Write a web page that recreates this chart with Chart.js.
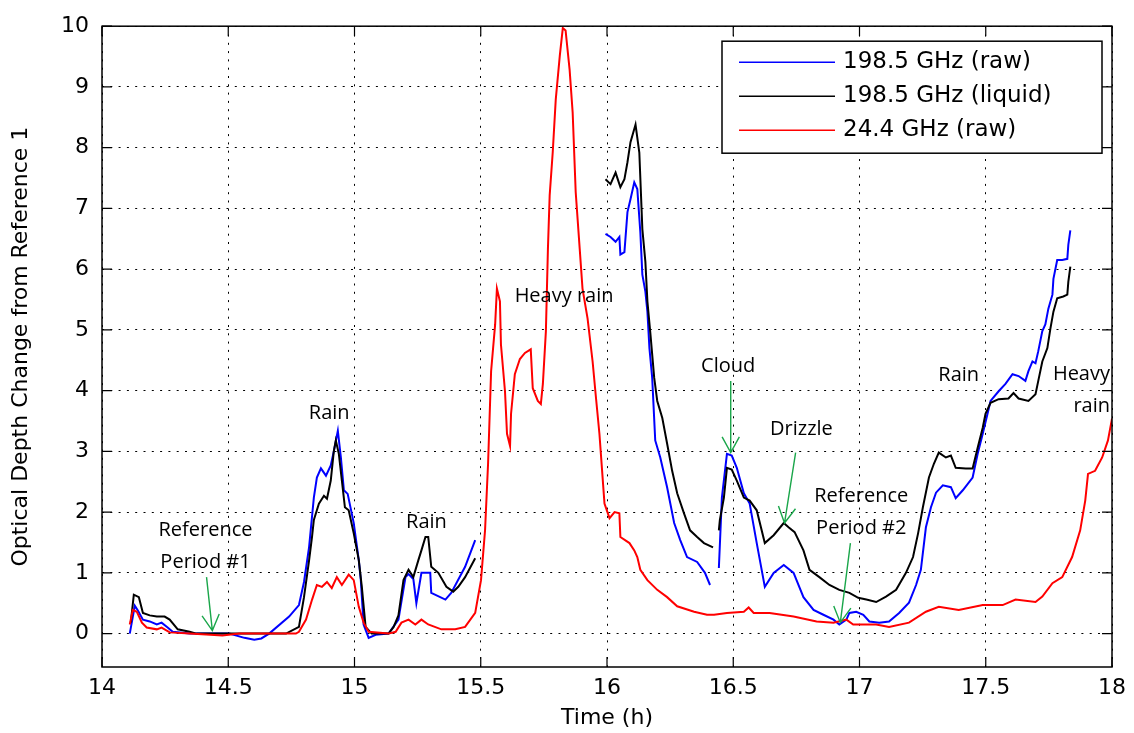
<!DOCTYPE html>
<html lang="en">
<head>
  <meta charset="UTF-8">
  <title>Optical Depth Change</title>
  <script src="https://cdn.jsdelivr.net/npm/chart.js"></script>
  <style>
    body { margin: 0; background: #fff; }
    #wrap { width: 1134px; height: 733px; }
  </style>
</head>
<body>
  <div id="wrap"><canvas id="myChart"></canvas></div>
  <script>
    // values (time in hours, null = gap in the record)
    const blueTime = [
      14.110, 14.130, 14.142, 14.162, 14.189, 14.217, 14.236, 14.260, 14.280, 14.347,
      14.504, 14.564, 14.603, 14.631, 14.662, 14.741, 14.780, 14.800, 14.820, 14.839,
      14.851, 14.867, 14.887, 14.906, 14.918, 14.934, 14.946, 14.958, 14.973, 14.997,
      15.017, 15.025, 15.036, 15.056, 15.084, 15.135, 15.174, 15.202, 15.214, 15.233,
      15.245, 15.265, 15.300, 15.304, 15.360, 15.383, 15.438, 15.478, 15.700,
      15.994, 16.014, 16.034, 16.049, 16.053, 16.069, 16.081, 16.093, 16.108, 16.120,
      16.132, 16.140, 16.152, 16.160, 16.168, 16.179, 16.191, 16.211, 16.238, 16.266,
      16.290, 16.317, 16.357, 16.388, 16.408, 16.425,
      16.443, 16.455, 16.475, 16.494, 16.514, 16.542, 16.565, 16.593, 16.625, 16.660,
      16.700, 16.739, 16.778, 16.818, 16.857, 16.897, 16.920, 16.948, 16.960, 16.987,
      17.015, 17.039, 17.078, 17.117, 17.157, 17.196, 17.224, 17.243, 17.263, 17.283,
      17.303, 17.330, 17.362, 17.381, 17.409, 17.448, 17.468, 17.488, 17.507, 17.519,
      17.551, 17.578, 17.606, 17.630, 17.657, 17.669, 17.685, 17.697, 17.708, 17.724,
      17.736, 17.748, 17.764, 17.768, 17.783, 17.803, 17.823, 17.827, 17.835
    ]
    const blueRaw = [
      0, 0.46, 0.38, 0.23, 0.2, 0.15, 0.18, 0.1, 0.03, 0,
      0, -0.07, -0.1, -0.08, 0, 0.28, 0.47, 0.85, 1.42, 2.24,
      2.57, 2.72, 2.6, 2.77, 3.0, 3.34, 2.9, 2.36, 2.3, 1.82,
      1.21, 0.88, 0.15, -0.07, -0.02, 0, 0.23, 0.93, 0.98, 0.9,
      0.5, 1.0, 1.0, 0.67, 0.56, 0.67, 1.1, 1.54, null,
      6.58, 6.53, 6.45, 6.53, 6.24, 6.28, 6.94, 7.15, 7.43, 7.32,
      6.61, 5.91, 5.63, 5.3, 4.7, 4.21, 3.18, 2.9, 2.41, 1.82,
      1.54, 1.26, 1.18, 1.0, 0.8, null,
      1.08, 2.24, 2.96, 2.93, 2.73, 2.31, 2.14, 1.49, 0.77, 1.0,
      1.13, 1.0, 0.6, 0.39, 0.31, 0.23, 0.15, 0.23, 0.34, 0.36,
      0.31, 0.2, 0.18, 0.2, 0.34, 0.51, 0.8, 1.05, 1.75, 2.08,
      2.32, 2.44, 2.41, 2.23, 2.36, 2.57, 2.96, 3.29, 3.62, 3.83,
      3.99, 4.11, 4.27, 4.24, 4.16, 4.32, 4.48, 4.45, 4.65, 4.98,
      5.09, 5.35, 5.58, 5.84, 6.15, 6.15, 6.17, 6.4, 6.64
    ]

    const blackTime = [
      14.114, 14.126, 14.146, 14.162, 14.189, 14.217, 14.248, 14.268, 14.300, 14.347,
      14.374, 14.729, 14.780, 14.800, 14.820, 14.832, 14.839, 14.859, 14.879, 14.891,
      14.906, 14.918, 14.926, 14.938, 14.950, 14.962, 14.977, 14.997, 15.017, 15.029,
      15.044, 15.068, 15.135, 15.155, 15.174, 15.194, 15.214, 15.233, 15.253, 15.265,
      15.281, 15.292, 15.304, 15.332, 15.364, 15.391, 15.411, 15.438, 15.478, 15.700,
      15.994, 16.014, 16.034, 16.049, 16.053, 16.069, 16.081, 16.093, 16.113, 16.128,
      16.140, 16.152, 16.160, 16.172, 16.187, 16.199, 16.219, 16.238, 16.258, 16.278,
      16.305, 16.329, 16.357, 16.384, 16.420, 16.432,
      16.443, 16.447, 16.463, 16.475, 16.494, 16.514, 16.542, 16.565, 16.593, 16.625,
      16.660, 16.700, 16.719, 16.743, 16.778, 16.802, 16.841, 16.881, 16.920, 16.960,
      16.995, 17.027, 17.066, 17.105, 17.145, 17.184, 17.212, 17.232, 17.251, 17.275,
      17.295, 17.314, 17.342, 17.362, 17.381, 17.421, 17.448, 17.468, 17.488, 17.499,
      17.519, 17.551, 17.590, 17.610, 17.630, 17.669, 17.697, 17.708, 17.724, 17.744,
      17.756, 17.768, 17.783, 17.807, 17.823, 17.827, 17.835
    ]
    const blackLiquid = [
      0.18, 0.64, 0.6, 0.34, 0.3, 0.28, 0.28, 0.23, 0.07, 0.03,
      0, 0, 0.11, 0.6, 1.2, 1.6, 1.87, 2.14, 2.27, 2.22,
      2.52, 3.0, 3.18, 2.96, 2.52, 2.08, 2.03, 1.65, 1.21, 0.77,
      0.11, 0, 0, 0.11, 0.3, 0.88, 1.05, 0.93, 1.21, 1.37,
      1.59, 1.59, 1.1, 1.0, 0.77, 0.69, 0.77, 0.93, 1.24, null,
      7.48, 7.4, 7.59, 7.4, 7.35, 7.48, 7.76, 8.09, 8.38, 7.92,
      6.66, 6.12, 5.47, 4.93, 4.21, 3.83, 3.55, 3.13, 2.68, 2.31,
      1.98, 1.7, 1.59, 1.49, 1.42, null,
      1.7, 1.87, 2.24, 2.73, 2.7, 2.52, 2.24, 2.19, 2.03, 1.49,
      1.62, 1.82, 1.75, 1.67, 1.37, 1.05, 0.93, 0.8, 0.72, 0.67,
      0.59, 0.56, 0.52, 0.61, 0.72, 1.0, 1.26, 1.65, 2.08, 2.57,
      2.8, 2.98, 2.9, 2.93, 2.73, 2.72, 2.72, 3.06, 3.39, 3.62,
      3.8, 3.86, 3.87, 3.96, 3.87, 3.83, 3.94, 4.16, 4.48, 4.7,
      5.02, 5.3, 5.52, 5.55, 5.58, 5.79, 6.04
    ]

    const redTime = [
      14.110, 14.122, 14.138, 14.158, 14.177, 14.217, 14.236, 14.268, 14.347, 14.477,
      14.544, 14.768, 14.780, 14.808, 14.832, 14.851, 14.871, 14.891, 14.910, 14.930,
      14.950, 14.977, 14.997, 15.017, 15.036, 15.056, 15.135, 15.163, 15.186, 15.214,
      15.241, 15.265, 15.292, 15.344, 15.399, 15.438, 15.478, 15.501, 15.517, 15.529,
      15.541, 15.557, 15.564, 15.576, 15.580, 15.596, 15.604, 15.616, 15.620, 15.635,
      15.655, 15.675, 15.698, 15.706, 15.726, 15.738, 15.746, 15.758, 15.766, 15.773,
      15.785, 15.797, 15.813, 15.825, 15.836, 15.852, 15.864, 15.876, 15.892, 15.903,
      15.923, 15.943, 15.955, 15.970, 15.982, 15.990, 16.010, 16.030, 16.049, 16.053,
      16.089, 16.108, 16.120, 16.132, 16.160, 16.199, 16.238, 16.278, 16.345, 16.396,
      16.424, 16.475, 16.542, 16.561, 16.581, 16.644, 16.739, 16.830, 16.897, 16.948,
      16.975, 17.066, 17.117, 17.196, 17.263, 17.314, 17.393, 17.488, 17.567, 17.618,
      17.697, 17.724, 17.764, 17.803, 17.842, 17.874, 17.894, 17.905, 17.933, 17.961,
      17.984, 18.000
    ]
    const redRaw = [
      0.15, 0.39, 0.36, 0.18, 0.1, 0.07, 0.1, 0.02, 0, -0.03,
      0, 0, 0.03, 0.23, 0.56, 0.8, 0.77, 0.85, 0.75, 0.93,
      0.8, 0.97, 0.88, 0.44, 0.18, 0.03, 0, 0.03, 0.18, 0.23,
      0.15, 0.23, 0.15, 0.07, 0.07, 0.11, 0.34, 0.88, 1.7, 2.8,
      4.32, 5.09, 5.68, 5.47, 4.76, 3.99, 3.29, 3.09, 3.62, 4.27,
      4.52, 4.62, 4.68, 4.04, 3.83, 3.78, 4.11, 4.98, 6.33, 7.22,
      7.92, 8.79, 9.51, 9.97, 9.93, 9.28, 8.58, 7.27, 6.33, 5.68,
      5.19, 4.48, 3.94, 3.29, 2.6, 2.14, 1.9, 2.0, 1.98, 1.59,
      1.49, 1.37, 1.26, 1.05, 0.88, 0.72, 0.6, 0.45, 0.36, 0.31,
      0.31, 0.34, 0.36, 0.43, 0.34, 0.34, 0.28, 0.2, 0.18, 0.23,
      0.15, 0.15, 0.11, 0.18, 0.36, 0.44, 0.39, 0.47, 0.47, 0.56,
      0.52, 0.61, 0.83, 0.93, 1.26, 1.7, 2.19, 2.63, 2.68, 2.9,
      3.18, 3.54
    ]

    const xTicks = [14, 14.5, 15, 15.5, 16, 16.5, 17, 17.5, 18]
    const yTicks = [0, 1, 2, 3, 4, 5, 6, 7, 8, 9, 10]

    // event labels on the plot, placed in data units
    const notes = [
      { lines: ['Rain'], t: 14.90, v: 3.63 },
      { lines: ['Reference', 'Period #1'], t: 14.41, v: 1.44 },
      { lines: ['Rain'], t: 15.285, v: 1.83 },
      { lines: ['Heavy rain'], t: 15.83, v: 5.55 },
      { lines: ['Cloud'], t: 16.48, v: 4.4 },
      { lines: ['Drizzle'], t: 16.77, v: 3.37 },
      { lines: ['Reference', 'Period #2'], t: 17.007, v: 2.0 },
      { lines: ['Rain'], t: 17.393, v: 4.26 },
      { lines: ['Heavy', 'rain'], t: 17.992, v: 4.01, align: 'right' }
    ]
    const arrows = [
      { from: [14.414, 0.93], to: [14.437, 0.05] },
      { from: [16.49, 4.16], to: [16.49, 2.98] },
      { from: [16.747, 2.98], to: [16.703, 1.82] },
      { from: [16.964, 1.49], to: [16.924, 0.18] }
    ]

    function pairs(times, vals) {
      return times.map((t, i) => ({ x: t, y: vals[i] }))
    }

    // MATLAB style frame, inward ticks, in-plot legend and annotations
    const decorPlugin = {
      id: 'decor',
      afterDraw(chart) {
        const ctx = chart.ctx
        const area = chart.chartArea
        const xs = chart.scales.x
        const ys = chart.scales.y
        ctx.save()

        // frame + ticks
        ctx.strokeStyle = '#000'
        ctx.lineWidth = 1.5
        ctx.strokeRect(area.left, area.top, area.right - area.left, area.bottom - area.top)
        ctx.lineWidth = 1.2
        ctx.beginPath()
        xTicks.forEach(v => {
          const px = xs.getPixelForValue(v)
          ctx.moveTo(px, area.bottom); ctx.lineTo(px, area.bottom - 10)
          ctx.moveTo(px, area.top); ctx.lineTo(px, area.top + 10)
        })
        yTicks.forEach(v => {
          const py = ys.getPixelForValue(v)
          ctx.moveTo(area.left, py); ctx.lineTo(area.left + 10, py)
          ctx.moveTo(area.right, py); ctx.lineTo(area.right - 10, py)
        })
        ctx.stroke()

        // legend box
        const bx = area.right - 390, by = area.top + 15, bw = 380, bh = 112
        ctx.fillStyle = '#fff'
        ctx.fillRect(bx, by, bw, bh)
        ctx.lineWidth = 1.5
        ctx.strokeRect(bx, by, bw, bh)
        ctx.font = '23px "DejaVu Sans"'
        ctx.textBaseline = 'middle'
        ctx.textAlign = 'left'
        chart.data.datasets.forEach((ds, i) => {
          const ly = by + 21 + i * 34
          ctx.strokeStyle = ds.borderColor
          ctx.lineWidth = 1.5
          ctx.beginPath()
          ctx.moveTo(bx + 17, ly); ctx.lineTo(bx + 113, ly)
          ctx.stroke()
          ctx.fillStyle = '#000'
          ctx.fillText(ds.label, bx + 121, ly)
        })

        // green arrows
        ctx.strokeStyle = '#1aa64a'
        ctx.lineWidth = 1.4
        arrows.forEach(a => {
          const x1 = xs.getPixelForValue(a.from[0]), y1 = ys.getPixelForValue(a.from[1])
          const x2 = xs.getPixelForValue(a.to[0]), y2 = ys.getPixelForValue(a.to[1])
          const ang = Math.atan2(y2 - y1, x2 - x1)
          ctx.beginPath()
          ctx.moveTo(x1, y1); ctx.lineTo(x2, y2)
          ctx.moveTo(x2 - 18 * Math.cos(ang - 0.5), y2 - 18 * Math.sin(ang - 0.5))
          ctx.lineTo(x2, y2)
          ctx.lineTo(x2 - 18 * Math.cos(ang + 0.5), y2 - 18 * Math.sin(ang + 0.5))
          ctx.stroke()
        })

        // text labels
        ctx.fillStyle = '#000'
        ctx.font = '20px "Open Sans"'
        ctx.textBaseline = 'middle'
        notes.forEach(n => {
          const px = xs.getPixelForValue(n.t)
          const py = ys.getPixelForValue(n.v)
          ctx.textAlign = n.align || 'center'
          const off = (n.lines.length - 1) * 16
          n.lines.forEach((s, i) => ctx.fillText(s, px, py - off + i * 32))
        })
        ctx.restore()
      }
    }

    const axisFont = { family: 'DejaVu Sans', size: 22 }

    new Chart(document.getElementById('myChart'), {
      type: 'line',
      data: {
        datasets: [
          { label: '198.5 GHz (raw)', data: pairs(blueTime, blueRaw), borderColor: '#0000ff', order: 3 },
          { label: '198.5 GHz (liquid)', data: pairs(blackTime, blackLiquid), borderColor: '#000000', order: 2 },
          { label: '24.4 GHz (raw)', data: pairs(redTime, redRaw), borderColor: '#ff0000', order: 1 }
        ]
      },
      options: {
        responsive: true,
        maintainAspectRatio: false,
        animation: false,
        spanGaps: false,
        layout: { padding: { top: 23, right: 17, left: 0, bottom: 0 } },
        elements: {
          point: { radius: 0 },
          line: { borderWidth: 2, tension: 0, fill: false }
        },
        plugins: {
          legend: { display: false },
          tooltip: { enabled: false }
        },
        scales: {
          x: {
            type: 'linear',
            min: 14,
            max: 18,
            afterBuildTicks: s => { s.ticks = xTicks.map(v => ({ value: v })) },
            afterFit: s => { s.height = 66 },
            ticks: { color: '#000', font: axisFont, padding: 8, maxRotation: 0, autoSkip: false, callback: v => String(v) },
            grid: { color: '#000', lineWidth: 1, drawTicks: false },
            border: { display: false, dash: [2, 6.3] },
            title: { display: true, text: 'Time (h)', color: '#000', font: axisFont, padding: { top: 0, bottom: 2 } }
          },
          y: {
            type: 'linear',
            min: -0.55,
            max: 10,
            afterBuildTicks: s => { s.ticks = yTicks.map(v => ({ value: v })) },
            afterFit: s => { s.width = 102 },
            ticks: { color: '#000', font: axisFont, padding: 13, callback: v => String(v) },
            grid: { color: '#000', lineWidth: 1, drawTicks: false },
            border: { display: false, dash: [2, 6.3] },
            title: { display: true, text: 'Optical Depth Change from Reference 1', color: '#000', font: axisFont, padding: { top: 8 } }
          }
        }
      },
      plugins: [decorPlugin]
    });
  </script>
</body>
</html>
